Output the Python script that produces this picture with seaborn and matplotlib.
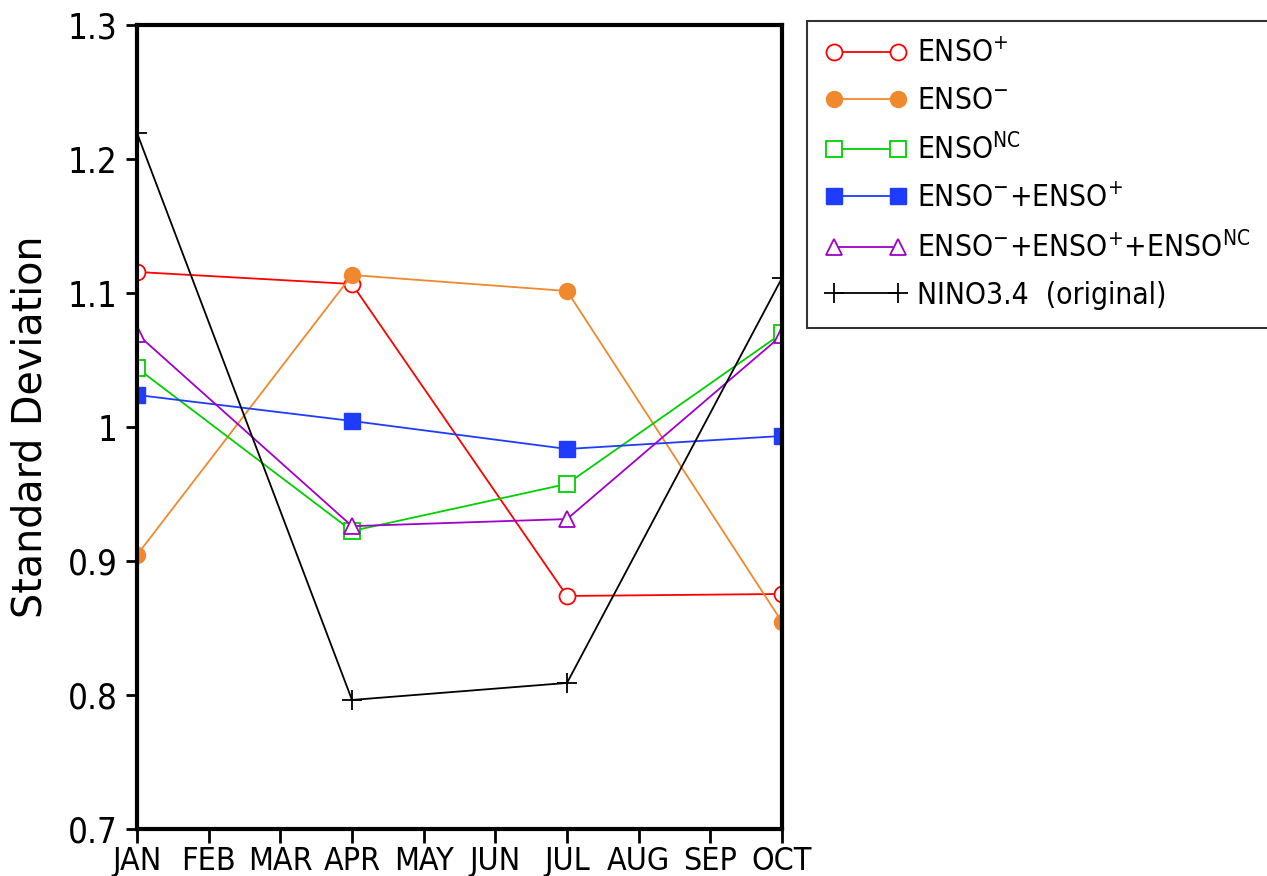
import matplotlib
matplotlib.use("Agg")
import matplotlib.pyplot as plt
import seaborn as sns
import pandas as pd
import numpy as np

months = ["JAN", "FEB", "MAR", "APR", "MAY", "JUN", "JUL", "AUG", "SEP", "OCT"]
obs_months = ["JAN", "APR", "JUL", "OCT"]

enso_pos = [1.1157, 1.1067, 0.8739, 0.8754]
enso_neg = [0.9045, 1.1134, 1.1015, 0.8545]
enso_nc = [1.0440, 0.9224, 0.9575, 1.0700]
neg_plus_pos = [1.0239, 1.0045, 0.9836, 0.9933]
neg_pos_nc = [1.0694, 0.9260, 0.9313, 1.0685]
nino34 = [1.2194, 0.7963, 0.8090, 1.1112]

labels = [r"ENSO$^{+}$", r"ENSO$^{-}$", r"ENSO$^{\mathrm{NC}}$",
          r"ENSO$^{-}$+ENSO$^{+}$", r"ENSO$^{-}$+ENSO$^{+}$+ENSO$^{\mathrm{NC}}$",
          "NINO3.4  (original)"]
series = [enso_pos, enso_neg, enso_nc, neg_plus_pos, neg_pos_nc, nino34]

styles = [
    dict(color="#ff0000", marker="o", mfc="white", mec="#ff0000", ms=11.5, mew=1.3),
    dict(color="#f0882d", marker="o", mfc="#f0882d", mec="#f0882d", ms=11.5, mew=1.0),
    dict(color="#00d000", marker="s", mfc="white", mec="#00d000", ms=11, mew=1.3),
    dict(color="#1e3cff", marker="s", mfc="#1e3cff", mec="#1e3cff", ms=11, mew=1.0),
    dict(color="#a000c8", marker="^", mfc="white", mec="#a000c8", ms=11, mew=1.3),
    dict(color="#000000", marker="+", mfc="black", mec="black", ms=14, mew=1.3),
]

sns.set_style("white")
plt.rcParams['font.family'] = ['DejaVu Sans']
plt.rcParams['mathtext.fontset'] = 'custom'
plt.rcParams['mathtext.rm'] = 'DejaVu Sans:stretch=condensed'
plt.rcParams['mathtext.it'] = 'DejaVu Sans:stretch=condensed'
plt.rcParams['mathtext.bf'] = 'DejaVu Sans:stretch=condensed:bold'
for k in ['text.color', 'axes.labelcolor', 'xtick.color', 'ytick.color']:
    plt.rcParams[k] = 'black'

fig = plt.figure(figsize=(12.67, 8.76), dpi=100)
ax = fig.add_axes([137/1267, 47/876, (782-137)/1267, (829-25)/876])

xpos = [months.index(m) for m in obs_months]
for lab, vals, st in zip(labels, series, styles):
    df = pd.DataFrame({"x": xpos, "y": vals})
    sns.lineplot(data=df, x="x", y="y", ax=ax, color=st["color"], lw=1.3,
                 marker=st["marker"], markerfacecolor=st["mfc"],
                 markeredgecolor=st["mec"], markersize=st["ms"],
                 markeredgewidth=st["mew"], label=lab)

ax.set_xlim(0, 9)
ax.set_ylim(0.7, 1.3)
ax.set_xticks(range(len(months)))
ax.set_xticklabels(months, fontsize=23, fontstretch='condensed')
yt = [0.7, 0.8, 0.9, 1.0, 1.1, 1.2, 1.3]
ax.set_yticks(yt)
ax.set_yticklabels(["0.7", "0.8", "0.9", "1", "1.1", "1.2", "1.3"],
                   fontsize=25, fontstretch='condensed')
ax.tick_params(axis="x", direction="out", length=10, width=2, color="black", pad=2,
               bottom=True, top=False)
ax.tick_params(axis="y", direction="out", length=8, width=2, color="black", pad=6,
               left=True, right=False)
for s in ax.spines.values():
    s.set_linewidth(3)
    s.set_color("black")
ax.set_xlabel("")
ax.set_ylabel("Standard Deviation", fontsize=28.5, labelpad=12)

leg = ax.legend(loc="upper left",
                bbox_to_anchor=(807/1267, 1 - 21/876, 470/1267, 0),
                bbox_transform=fig.transFigure, numpoints=2, mode="expand",
                prop=dict(size=21.5, stretch='condensed'),
                frameon=True, fancybox=False, edgecolor="black",
                handlelength=2.75, handletextpad=0.35, borderpad=0.6,
                labelspacing=0.6, borderaxespad=0)
leg.get_frame().set_linewidth(1.5)

fig.savefig("out.png", dpi=100)
